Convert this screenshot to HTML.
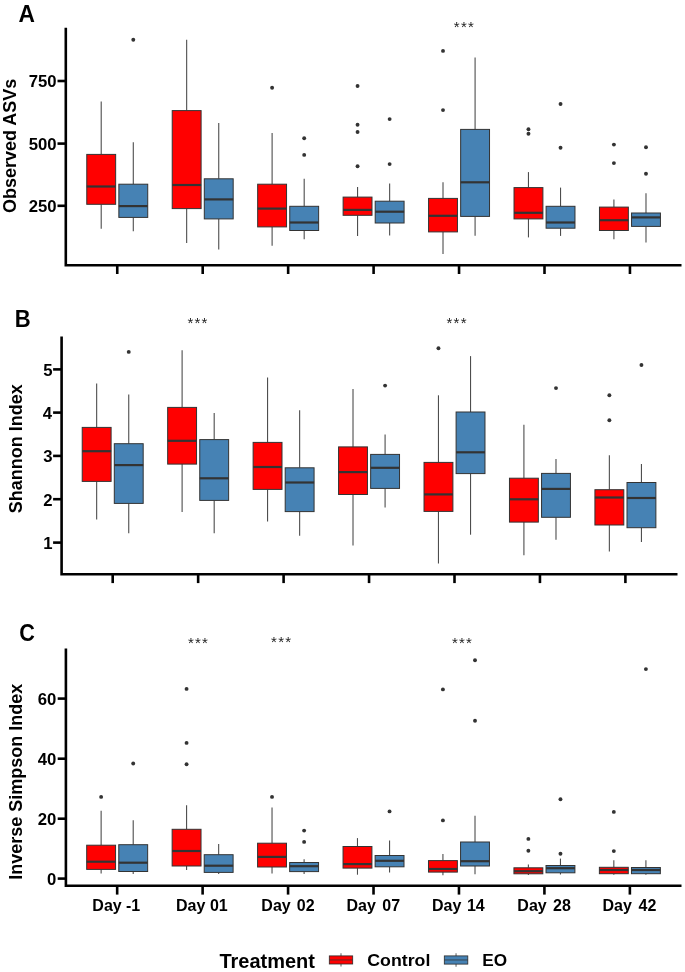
<!DOCTYPE html>
<html><head><meta charset="utf-8"><style>
html,body{margin:0;padding:0;background:#fff;}
svg{display:block;font-family:"Liberation Sans",sans-serif;will-change:transform;}
</style></head><body>
<svg width="685" height="972" viewBox="0 0 685 972">
<rect width="685" height="972" fill="#fff"/>
<line x1="101.21" y1="101.6" x2="101.21" y2="154.4" stroke="#4d4d4d" stroke-width="1.1"/>
<line x1="101.21" y1="204.3" x2="101.21" y2="228.7" stroke="#4d4d4d" stroke-width="1.1"/>
<rect x="86.77" y="154.4" width="28.88" height="49.9" fill="#FF0000" stroke="#333333" stroke-width="1.0"/>
<line x1="86.77" y1="186.5" x2="115.65" y2="186.5" stroke="#333333" stroke-width="2.2"/>
<line x1="133.29" y1="142.3" x2="133.29" y2="184.2" stroke="#4d4d4d" stroke-width="1.1"/>
<line x1="133.29" y1="217.4" x2="133.29" y2="231.3" stroke="#4d4d4d" stroke-width="1.1"/>
<rect x="118.85" y="184.2" width="28.88" height="33.2" fill="#4682B4" stroke="#333333" stroke-width="1.0"/>
<line x1="118.85" y1="206.1" x2="147.73" y2="206.1" stroke="#333333" stroke-width="2.2"/>
<circle cx="133.29" cy="39.7" r="1.95" fill="#333333"/>
<line x1="186.66" y1="39.7" x2="186.66" y2="110.6" stroke="#4d4d4d" stroke-width="1.1"/>
<line x1="186.66" y1="208.6" x2="186.66" y2="243.1" stroke="#4d4d4d" stroke-width="1.1"/>
<rect x="172.22" y="110.6" width="28.88" height="98" fill="#FF0000" stroke="#333333" stroke-width="1.0"/>
<line x1="172.22" y1="185" x2="201.1" y2="185" stroke="#333333" stroke-width="2.2"/>
<line x1="218.74" y1="123" x2="218.74" y2="178.8" stroke="#4d4d4d" stroke-width="1.1"/>
<line x1="218.74" y1="218.9" x2="218.74" y2="249.5" stroke="#4d4d4d" stroke-width="1.1"/>
<rect x="204.3" y="178.8" width="28.88" height="40.1" fill="#4682B4" stroke="#333333" stroke-width="1.0"/>
<line x1="204.3" y1="199.4" x2="233.18" y2="199.4" stroke="#333333" stroke-width="2.2"/>
<line x1="272.11" y1="133" x2="272.11" y2="184.2" stroke="#4d4d4d" stroke-width="1.1"/>
<line x1="272.11" y1="226.9" x2="272.11" y2="245.7" stroke="#4d4d4d" stroke-width="1.1"/>
<rect x="257.67" y="184.2" width="28.88" height="42.7" fill="#FF0000" stroke="#333333" stroke-width="1.0"/>
<line x1="257.67" y1="208.6" x2="286.55" y2="208.6" stroke="#333333" stroke-width="2.2"/>
<circle cx="272.11" cy="87.8" r="1.95" fill="#333333"/>
<line x1="304.19" y1="178.8" x2="304.19" y2="206.3" stroke="#4d4d4d" stroke-width="1.1"/>
<line x1="304.19" y1="230.5" x2="304.19" y2="239.3" stroke="#4d4d4d" stroke-width="1.1"/>
<rect x="289.75" y="206.3" width="28.88" height="24.2" fill="#4682B4" stroke="#333333" stroke-width="1.0"/>
<line x1="289.75" y1="222.5" x2="318.63" y2="222.5" stroke="#333333" stroke-width="2.2"/>
<circle cx="304.19" cy="138.2" r="1.95" fill="#333333"/>
<circle cx="304.19" cy="154.9" r="1.95" fill="#333333"/>
<line x1="357.56" y1="187" x2="357.56" y2="197.1" stroke="#4d4d4d" stroke-width="1.1"/>
<line x1="357.56" y1="215.3" x2="357.56" y2="235.9" stroke="#4d4d4d" stroke-width="1.1"/>
<rect x="343.12" y="197.1" width="28.88" height="18.2" fill="#FF0000" stroke="#333333" stroke-width="1.0"/>
<line x1="343.12" y1="209.9" x2="372" y2="209.9" stroke="#333333" stroke-width="2.2"/>
<circle cx="357.56" cy="86" r="1.95" fill="#333333"/>
<circle cx="357.56" cy="124.8" r="1.95" fill="#333333"/>
<circle cx="357.56" cy="132" r="1.95" fill="#333333"/>
<circle cx="357.56" cy="166.2" r="1.95" fill="#333333"/>
<line x1="389.64" y1="183.4" x2="389.64" y2="201.2" stroke="#4d4d4d" stroke-width="1.1"/>
<line x1="389.64" y1="223" x2="389.64" y2="235.4" stroke="#4d4d4d" stroke-width="1.1"/>
<rect x="375.2" y="201.2" width="28.88" height="21.8" fill="#4682B4" stroke="#333333" stroke-width="1.0"/>
<line x1="375.2" y1="211.7" x2="404.08" y2="211.7" stroke="#333333" stroke-width="2.2"/>
<circle cx="389.64" cy="119.1" r="1.95" fill="#333333"/>
<circle cx="389.64" cy="164.1" r="1.95" fill="#333333"/>
<line x1="443.01" y1="182.3" x2="443.01" y2="198.4" stroke="#4d4d4d" stroke-width="1.1"/>
<line x1="443.01" y1="231.9" x2="443.01" y2="254" stroke="#4d4d4d" stroke-width="1.1"/>
<rect x="428.57" y="198.4" width="28.88" height="33.5" fill="#FF0000" stroke="#333333" stroke-width="1.0"/>
<line x1="428.57" y1="215.8" x2="457.45" y2="215.8" stroke="#333333" stroke-width="2.2"/>
<circle cx="443.01" cy="50.9" r="1.95" fill="#333333"/>
<circle cx="443.01" cy="110.1" r="1.95" fill="#333333"/>
<line x1="475.09" y1="57.4" x2="475.09" y2="129.4" stroke="#4d4d4d" stroke-width="1.1"/>
<line x1="475.09" y1="216.4" x2="475.09" y2="235.7" stroke="#4d4d4d" stroke-width="1.1"/>
<rect x="460.65" y="129.4" width="28.88" height="87" fill="#4682B4" stroke="#333333" stroke-width="1.0"/>
<line x1="460.65" y1="182.3" x2="489.53" y2="182.3" stroke="#333333" stroke-width="2.2"/>
<line x1="528.46" y1="172.1" x2="528.46" y2="187.6" stroke="#4d4d4d" stroke-width="1.1"/>
<line x1="528.46" y1="218.9" x2="528.46" y2="237.4" stroke="#4d4d4d" stroke-width="1.1"/>
<rect x="514.02" y="187.6" width="28.88" height="31.3" fill="#FF0000" stroke="#333333" stroke-width="1.0"/>
<line x1="514.02" y1="212.8" x2="542.9" y2="212.8" stroke="#333333" stroke-width="2.2"/>
<circle cx="528.46" cy="129.2" r="1.95" fill="#333333"/>
<circle cx="528.46" cy="133.8" r="1.95" fill="#333333"/>
<line x1="560.54" y1="187.6" x2="560.54" y2="206.3" stroke="#4d4d4d" stroke-width="1.1"/>
<line x1="560.54" y1="228.2" x2="560.54" y2="235.9" stroke="#4d4d4d" stroke-width="1.1"/>
<rect x="546.1" y="206.3" width="28.88" height="21.9" fill="#4682B4" stroke="#333333" stroke-width="1.0"/>
<line x1="546.1" y1="222.5" x2="574.98" y2="222.5" stroke="#333333" stroke-width="2.2"/>
<circle cx="560.54" cy="104" r="1.95" fill="#333333"/>
<circle cx="560.54" cy="147.7" r="1.95" fill="#333333"/>
<line x1="613.91" y1="199.4" x2="613.91" y2="207.1" stroke="#4d4d4d" stroke-width="1.1"/>
<line x1="613.91" y1="230.5" x2="613.91" y2="239.3" stroke="#4d4d4d" stroke-width="1.1"/>
<rect x="599.47" y="207.1" width="28.88" height="23.4" fill="#FF0000" stroke="#333333" stroke-width="1.0"/>
<line x1="599.47" y1="220.2" x2="628.35" y2="220.2" stroke="#333333" stroke-width="2.2"/>
<circle cx="613.91" cy="144.6" r="1.95" fill="#333333"/>
<circle cx="613.91" cy="163.1" r="1.95" fill="#333333"/>
<line x1="645.99" y1="193.2" x2="645.99" y2="213" stroke="#4d4d4d" stroke-width="1.1"/>
<line x1="645.99" y1="226.4" x2="645.99" y2="242.6" stroke="#4d4d4d" stroke-width="1.1"/>
<rect x="631.55" y="213" width="28.88" height="13.4" fill="#4682B4" stroke="#333333" stroke-width="1.0"/>
<line x1="631.55" y1="217.4" x2="660.43" y2="217.4" stroke="#333333" stroke-width="2.2"/>
<circle cx="645.99" cy="147.2" r="1.95" fill="#333333"/>
<circle cx="645.99" cy="173.7" r="1.95" fill="#333333"/>
<path d="M65.8 27.8V265.2H681.5" stroke="#000" stroke-width="2.6" fill="none" stroke-linecap="butt" stroke-linejoin="miter"/>
<line x1="117.25" y1="265.2" x2="117.25" y2="274" stroke="#000" stroke-width="2.6"/>
<line x1="202.7" y1="265.2" x2="202.7" y2="274" stroke="#000" stroke-width="2.6"/>
<line x1="288.15" y1="265.2" x2="288.15" y2="274" stroke="#000" stroke-width="2.6"/>
<line x1="373.6" y1="265.2" x2="373.6" y2="274" stroke="#000" stroke-width="2.6"/>
<line x1="459.05" y1="265.2" x2="459.05" y2="274" stroke="#000" stroke-width="2.6"/>
<line x1="544.5" y1="265.2" x2="544.5" y2="274" stroke="#000" stroke-width="2.6"/>
<line x1="629.95" y1="265.2" x2="629.95" y2="274" stroke="#000" stroke-width="2.6"/>
<line x1="57.5" y1="81" x2="65.8" y2="81" stroke="#000" stroke-width="2.6"/>
<text transform="translate(28.63,87.33) scale(1.02,1.05)" font-size="16.4" font-weight="bold" fill="#000">750</text>
<line x1="57.5" y1="143.6" x2="65.8" y2="143.6" stroke="#000" stroke-width="2.6"/>
<text transform="translate(28.63,149.93) scale(1.02,1.05)" font-size="16.4" font-weight="bold" fill="#000">500</text>
<line x1="57.5" y1="205.8" x2="65.8" y2="205.8" stroke="#000" stroke-width="2.6"/>
<text transform="translate(28.63,212.13) scale(1.02,1.05)" font-size="16.4" font-weight="bold" fill="#000">250</text>
<line x1="96.66" y1="383.5" x2="96.66" y2="427.4" stroke="#4d4d4d" stroke-width="1.1"/>
<line x1="96.66" y1="481.4" x2="96.66" y2="519.4" stroke="#4d4d4d" stroke-width="1.1"/>
<rect x="82.22" y="427.4" width="28.88" height="54" fill="#FF0000" stroke="#333333" stroke-width="1.0"/>
<line x1="82.22" y1="451.2" x2="111.1" y2="451.2" stroke="#333333" stroke-width="2.2"/>
<line x1="128.74" y1="394.5" x2="128.74" y2="443.7" stroke="#4d4d4d" stroke-width="1.1"/>
<line x1="128.74" y1="503.4" x2="128.74" y2="533.3" stroke="#4d4d4d" stroke-width="1.1"/>
<rect x="114.3" y="443.7" width="28.88" height="59.7" fill="#4682B4" stroke="#333333" stroke-width="1.0"/>
<line x1="114.3" y1="465.1" x2="143.18" y2="465.1" stroke="#333333" stroke-width="2.2"/>
<circle cx="128.74" cy="351.9" r="1.95" fill="#333333"/>
<line x1="182.11" y1="350.3" x2="182.11" y2="407.4" stroke="#4d4d4d" stroke-width="1.1"/>
<line x1="182.11" y1="464.1" x2="182.11" y2="512" stroke="#4d4d4d" stroke-width="1.1"/>
<rect x="167.67" y="407.4" width="28.88" height="56.7" fill="#FF0000" stroke="#333333" stroke-width="1.0"/>
<line x1="167.67" y1="440.8" x2="196.55" y2="440.8" stroke="#333333" stroke-width="2.2"/>
<line x1="214.19" y1="412.9" x2="214.19" y2="439.6" stroke="#4d4d4d" stroke-width="1.1"/>
<line x1="214.19" y1="500.4" x2="214.19" y2="533.3" stroke="#4d4d4d" stroke-width="1.1"/>
<rect x="199.75" y="439.6" width="28.88" height="60.8" fill="#4682B4" stroke="#333333" stroke-width="1.0"/>
<line x1="199.75" y1="478.3" x2="228.63" y2="478.3" stroke="#333333" stroke-width="2.2"/>
<line x1="267.56" y1="377.6" x2="267.56" y2="442.4" stroke="#4d4d4d" stroke-width="1.1"/>
<line x1="267.56" y1="489.4" x2="267.56" y2="521.5" stroke="#4d4d4d" stroke-width="1.1"/>
<rect x="253.12" y="442.4" width="28.88" height="47" fill="#FF0000" stroke="#333333" stroke-width="1.0"/>
<line x1="253.12" y1="467" x2="282" y2="467" stroke="#333333" stroke-width="2.2"/>
<line x1="299.64" y1="410.3" x2="299.64" y2="467.8" stroke="#4d4d4d" stroke-width="1.1"/>
<line x1="299.64" y1="511.6" x2="299.64" y2="535.7" stroke="#4d4d4d" stroke-width="1.1"/>
<rect x="285.2" y="467.8" width="28.88" height="43.8" fill="#4682B4" stroke="#333333" stroke-width="1.0"/>
<line x1="285.2" y1="482.5" x2="314.08" y2="482.5" stroke="#333333" stroke-width="2.2"/>
<line x1="353.01" y1="388.9" x2="353.01" y2="446.9" stroke="#4d4d4d" stroke-width="1.1"/>
<line x1="353.01" y1="494.5" x2="353.01" y2="545.4" stroke="#4d4d4d" stroke-width="1.1"/>
<rect x="338.57" y="446.9" width="28.88" height="47.6" fill="#FF0000" stroke="#333333" stroke-width="1.0"/>
<line x1="338.57" y1="472.1" x2="367.45" y2="472.1" stroke="#333333" stroke-width="2.2"/>
<line x1="385.09" y1="434.6" x2="385.09" y2="454.4" stroke="#4d4d4d" stroke-width="1.1"/>
<line x1="385.09" y1="488.4" x2="385.09" y2="507.6" stroke="#4d4d4d" stroke-width="1.1"/>
<rect x="370.65" y="454.4" width="28.88" height="34" fill="#4682B4" stroke="#333333" stroke-width="1.0"/>
<line x1="370.65" y1="467.8" x2="399.53" y2="467.8" stroke="#333333" stroke-width="2.2"/>
<circle cx="385.09" cy="385.6" r="1.95" fill="#333333"/>
<line x1="438.46" y1="395.3" x2="438.46" y2="462.4" stroke="#4d4d4d" stroke-width="1.1"/>
<line x1="438.46" y1="511.4" x2="438.46" y2="563.5" stroke="#4d4d4d" stroke-width="1.1"/>
<rect x="424.02" y="462.4" width="28.88" height="49" fill="#FF0000" stroke="#333333" stroke-width="1.0"/>
<line x1="424.02" y1="494.4" x2="452.9" y2="494.4" stroke="#333333" stroke-width="2.2"/>
<circle cx="438.46" cy="348.3" r="1.95" fill="#333333"/>
<line x1="470.54" y1="356.1" x2="470.54" y2="412" stroke="#4d4d4d" stroke-width="1.1"/>
<line x1="470.54" y1="473.6" x2="470.54" y2="534.7" stroke="#4d4d4d" stroke-width="1.1"/>
<rect x="456.1" y="412" width="28.88" height="61.6" fill="#4682B4" stroke="#333333" stroke-width="1.0"/>
<line x1="456.1" y1="452.3" x2="484.98" y2="452.3" stroke="#333333" stroke-width="2.2"/>
<line x1="523.91" y1="424.7" x2="523.91" y2="478.2" stroke="#4d4d4d" stroke-width="1.1"/>
<line x1="523.91" y1="522.1" x2="523.91" y2="555.3" stroke="#4d4d4d" stroke-width="1.1"/>
<rect x="509.47" y="478.2" width="28.88" height="43.9" fill="#FF0000" stroke="#333333" stroke-width="1.0"/>
<line x1="509.47" y1="499.3" x2="538.35" y2="499.3" stroke="#333333" stroke-width="2.2"/>
<line x1="555.99" y1="458.9" x2="555.99" y2="473.4" stroke="#4d4d4d" stroke-width="1.1"/>
<line x1="555.99" y1="517.3" x2="555.99" y2="539.7" stroke="#4d4d4d" stroke-width="1.1"/>
<rect x="541.55" y="473.4" width="28.88" height="43.9" fill="#4682B4" stroke="#333333" stroke-width="1.0"/>
<line x1="541.55" y1="488.9" x2="570.43" y2="488.9" stroke="#333333" stroke-width="2.2"/>
<circle cx="555.99" cy="388.1" r="1.95" fill="#333333"/>
<line x1="609.36" y1="455.2" x2="609.36" y2="489.7" stroke="#4d4d4d" stroke-width="1.1"/>
<line x1="609.36" y1="525" x2="609.36" y2="551.5" stroke="#4d4d4d" stroke-width="1.1"/>
<rect x="594.92" y="489.7" width="28.88" height="35.3" fill="#FF0000" stroke="#333333" stroke-width="1.0"/>
<line x1="594.92" y1="497.5" x2="623.8" y2="497.5" stroke="#333333" stroke-width="2.2"/>
<circle cx="609.36" cy="395.3" r="1.95" fill="#333333"/>
<circle cx="609.36" cy="420.2" r="1.95" fill="#333333"/>
<line x1="641.44" y1="464" x2="641.44" y2="482.5" stroke="#4d4d4d" stroke-width="1.1"/>
<line x1="641.44" y1="527.7" x2="641.44" y2="541.9" stroke="#4d4d4d" stroke-width="1.1"/>
<rect x="627" y="482.5" width="28.88" height="45.2" fill="#4682B4" stroke="#333333" stroke-width="1.0"/>
<line x1="627" y1="498" x2="655.88" y2="498" stroke="#333333" stroke-width="2.2"/>
<circle cx="641.44" cy="365" r="1.95" fill="#333333"/>
<path d="M61.6 336.6V574.3H677.5" stroke="#000" stroke-width="2.6" fill="none" stroke-linecap="butt" stroke-linejoin="miter"/>
<line x1="112.7" y1="574.3" x2="112.7" y2="583.1" stroke="#000" stroke-width="2.6"/>
<line x1="198.15" y1="574.3" x2="198.15" y2="583.1" stroke="#000" stroke-width="2.6"/>
<line x1="283.6" y1="574.3" x2="283.6" y2="583.1" stroke="#000" stroke-width="2.6"/>
<line x1="369.05" y1="574.3" x2="369.05" y2="583.1" stroke="#000" stroke-width="2.6"/>
<line x1="454.5" y1="574.3" x2="454.5" y2="583.1" stroke="#000" stroke-width="2.6"/>
<line x1="539.95" y1="574.3" x2="539.95" y2="583.1" stroke="#000" stroke-width="2.6"/>
<line x1="625.4" y1="574.3" x2="625.4" y2="583.1" stroke="#000" stroke-width="2.6"/>
<line x1="53.1" y1="369.4" x2="61.6" y2="369.4" stroke="#000" stroke-width="2.6"/>
<text transform="translate(43.13,375.73) scale(1.02,1.05)" font-size="16.4" font-weight="bold" fill="#000">5</text>
<line x1="53.1" y1="412.6" x2="61.6" y2="412.6" stroke="#000" stroke-width="2.6"/>
<text transform="translate(42.8,418.93) scale(1.02,1.05)" font-size="16.4" font-weight="bold" fill="#000">4</text>
<line x1="53.1" y1="455.9" x2="61.6" y2="455.9" stroke="#000" stroke-width="2.6"/>
<text transform="translate(43.3,462.23) scale(1.02,1.05)" font-size="16.4" font-weight="bold" fill="#000">3</text>
<line x1="53.1" y1="499.2" x2="61.6" y2="499.2" stroke="#000" stroke-width="2.6"/>
<text transform="translate(43.3,505.53) scale(1.02,1.05)" font-size="16.4" font-weight="bold" fill="#000">2</text>
<line x1="53.1" y1="542.6" x2="61.6" y2="542.6" stroke="#000" stroke-width="2.6"/>
<text transform="translate(43.13,548.93) scale(1.02,1.05)" font-size="16.4" font-weight="bold" fill="#000">1</text>
<line x1="101.13" y1="810.8" x2="101.13" y2="845.2" stroke="#4d4d4d" stroke-width="1.1"/>
<line x1="101.13" y1="869.4" x2="101.13" y2="873.5" stroke="#4d4d4d" stroke-width="1.1"/>
<rect x="86.69" y="845.2" width="28.88" height="24.2" fill="#FF0000" stroke="#333333" stroke-width="1.0"/>
<line x1="86.69" y1="861.7" x2="115.57" y2="861.7" stroke="#333333" stroke-width="2.2"/>
<circle cx="101.13" cy="796.9" r="1.95" fill="#333333"/>
<line x1="133.21" y1="820.3" x2="133.21" y2="844.7" stroke="#4d4d4d" stroke-width="1.1"/>
<line x1="133.21" y1="871.5" x2="133.21" y2="874.1" stroke="#4d4d4d" stroke-width="1.1"/>
<rect x="118.77" y="844.7" width="28.88" height="26.8" fill="#4682B4" stroke="#333333" stroke-width="1.0"/>
<line x1="118.77" y1="862.7" x2="147.65" y2="862.7" stroke="#333333" stroke-width="2.2"/>
<circle cx="133.21" cy="763.5" r="1.95" fill="#333333"/>
<line x1="186.58" y1="805.2" x2="186.58" y2="829.3" stroke="#4d4d4d" stroke-width="1.1"/>
<line x1="186.58" y1="866" x2="186.58" y2="870" stroke="#4d4d4d" stroke-width="1.1"/>
<rect x="172.14" y="829.3" width="28.88" height="36.7" fill="#FF0000" stroke="#333333" stroke-width="1.0"/>
<line x1="172.14" y1="851" x2="201.02" y2="851" stroke="#333333" stroke-width="2.2"/>
<circle cx="186.58" cy="688.9" r="1.95" fill="#333333"/>
<circle cx="186.58" cy="742.9" r="1.95" fill="#333333"/>
<circle cx="186.58" cy="764.3" r="1.95" fill="#333333"/>
<line x1="218.66" y1="844" x2="218.66" y2="854.7" stroke="#4d4d4d" stroke-width="1.1"/>
<line x1="218.66" y1="872.4" x2="218.66" y2="874" stroke="#4d4d4d" stroke-width="1.1"/>
<rect x="204.22" y="854.7" width="28.88" height="17.7" fill="#4682B4" stroke="#333333" stroke-width="1.0"/>
<line x1="204.22" y1="865.7" x2="233.1" y2="865.7" stroke="#333333" stroke-width="2.2"/>
<line x1="272.03" y1="807.6" x2="272.03" y2="843.2" stroke="#4d4d4d" stroke-width="1.1"/>
<line x1="272.03" y1="867" x2="272.03" y2="873.4" stroke="#4d4d4d" stroke-width="1.1"/>
<rect x="257.59" y="843.2" width="28.88" height="23.8" fill="#FF0000" stroke="#333333" stroke-width="1.0"/>
<line x1="257.59" y1="856.9" x2="286.47" y2="856.9" stroke="#333333" stroke-width="2.2"/>
<circle cx="272.03" cy="796.9" r="1.95" fill="#333333"/>
<line x1="304.11" y1="859.3" x2="304.11" y2="862.5" stroke="#4d4d4d" stroke-width="1.1"/>
<line x1="304.11" y1="871.6" x2="304.11" y2="874" stroke="#4d4d4d" stroke-width="1.1"/>
<rect x="289.67" y="862.5" width="28.88" height="9.1" fill="#4682B4" stroke="#333333" stroke-width="1.0"/>
<line x1="289.67" y1="866.2" x2="318.55" y2="866.2" stroke="#333333" stroke-width="2.2"/>
<circle cx="304.11" cy="830.6" r="1.95" fill="#333333"/>
<circle cx="304.11" cy="841.9" r="1.95" fill="#333333"/>
<line x1="357.48" y1="838.1" x2="357.48" y2="846.5" stroke="#4d4d4d" stroke-width="1.1"/>
<line x1="357.48" y1="868.1" x2="357.48" y2="874.7" stroke="#4d4d4d" stroke-width="1.1"/>
<rect x="343.04" y="846.5" width="28.88" height="21.6" fill="#FF0000" stroke="#333333" stroke-width="1.0"/>
<line x1="343.04" y1="864.1" x2="371.92" y2="864.1" stroke="#333333" stroke-width="2.2"/>
<line x1="389.56" y1="840.6" x2="389.56" y2="855.5" stroke="#4d4d4d" stroke-width="1.1"/>
<line x1="389.56" y1="866.8" x2="389.56" y2="872.4" stroke="#4d4d4d" stroke-width="1.1"/>
<rect x="375.12" y="855.5" width="28.88" height="11.3" fill="#4682B4" stroke="#333333" stroke-width="1.0"/>
<line x1="375.12" y1="860.8" x2="404" y2="860.8" stroke="#333333" stroke-width="2.2"/>
<circle cx="389.56" cy="811.4" r="1.95" fill="#333333"/>
<line x1="442.93" y1="854.1" x2="442.93" y2="860.6" stroke="#4d4d4d" stroke-width="1.1"/>
<line x1="442.93" y1="872.1" x2="442.93" y2="875.2" stroke="#4d4d4d" stroke-width="1.1"/>
<rect x="428.49" y="860.6" width="28.88" height="11.5" fill="#FF0000" stroke="#333333" stroke-width="1.0"/>
<line x1="428.49" y1="869" x2="457.37" y2="869" stroke="#333333" stroke-width="2.2"/>
<circle cx="442.93" cy="689.4" r="1.95" fill="#333333"/>
<circle cx="442.93" cy="820.4" r="1.95" fill="#333333"/>
<line x1="475.01" y1="815.8" x2="475.01" y2="842" stroke="#4d4d4d" stroke-width="1.1"/>
<line x1="475.01" y1="866" x2="475.01" y2="874.2" stroke="#4d4d4d" stroke-width="1.1"/>
<rect x="460.57" y="842" width="28.88" height="24" fill="#4682B4" stroke="#333333" stroke-width="1.0"/>
<line x1="460.57" y1="861.2" x2="489.45" y2="861.2" stroke="#333333" stroke-width="2.2"/>
<circle cx="475.01" cy="660.2" r="1.95" fill="#333333"/>
<circle cx="475.01" cy="720.7" r="1.95" fill="#333333"/>
<line x1="528.38" y1="864.5" x2="528.38" y2="867.8" stroke="#4d4d4d" stroke-width="1.1"/>
<line x1="528.38" y1="873.8" x2="528.38" y2="875.1" stroke="#4d4d4d" stroke-width="1.1"/>
<rect x="513.94" y="867.8" width="28.88" height="6" fill="#FF0000" stroke="#333333" stroke-width="1.0"/>
<line x1="513.94" y1="871.2" x2="542.82" y2="871.2" stroke="#333333" stroke-width="2.2"/>
<circle cx="528.38" cy="838.9" r="1.95" fill="#333333"/>
<circle cx="528.38" cy="850.8" r="1.95" fill="#333333"/>
<line x1="560.46" y1="858.6" x2="560.46" y2="865.5" stroke="#4d4d4d" stroke-width="1.1"/>
<line x1="560.46" y1="872.8" x2="560.46" y2="874.5" stroke="#4d4d4d" stroke-width="1.1"/>
<rect x="546.02" y="865.5" width="28.88" height="7.3" fill="#4682B4" stroke="#333333" stroke-width="1.0"/>
<line x1="546.02" y1="868.2" x2="574.9" y2="868.2" stroke="#333333" stroke-width="2.2"/>
<circle cx="560.46" cy="799.2" r="1.95" fill="#333333"/>
<circle cx="560.46" cy="853.7" r="1.95" fill="#333333"/>
<line x1="613.83" y1="860.3" x2="613.83" y2="867.3" stroke="#4d4d4d" stroke-width="1.1"/>
<line x1="613.83" y1="873.7" x2="613.83" y2="874.7" stroke="#4d4d4d" stroke-width="1.1"/>
<rect x="599.39" y="867.3" width="28.88" height="6.4" fill="#FF0000" stroke="#333333" stroke-width="1.0"/>
<line x1="599.39" y1="870" x2="628.27" y2="870" stroke="#333333" stroke-width="2.2"/>
<circle cx="613.83" cy="811.9" r="1.95" fill="#333333"/>
<circle cx="613.83" cy="851.1" r="1.95" fill="#333333"/>
<line x1="645.91" y1="860.3" x2="645.91" y2="867.5" stroke="#4d4d4d" stroke-width="1.1"/>
<line x1="645.91" y1="873.7" x2="645.91" y2="874.7" stroke="#4d4d4d" stroke-width="1.1"/>
<rect x="631.47" y="867.5" width="28.88" height="6.2" fill="#4682B4" stroke="#333333" stroke-width="1.0"/>
<line x1="631.47" y1="870" x2="660.35" y2="870" stroke="#333333" stroke-width="2.2"/>
<circle cx="645.91" cy="669.1" r="1.95" fill="#333333"/>
<path d="M65.9 648.5V885.8H681.5" stroke="#000" stroke-width="2.6" fill="none" stroke-linecap="butt" stroke-linejoin="miter"/>
<line x1="117.17" y1="885.8" x2="117.17" y2="894.6" stroke="#000" stroke-width="2.6"/>
<line x1="202.62" y1="885.8" x2="202.62" y2="894.6" stroke="#000" stroke-width="2.6"/>
<line x1="288.07" y1="885.8" x2="288.07" y2="894.6" stroke="#000" stroke-width="2.6"/>
<line x1="373.52" y1="885.8" x2="373.52" y2="894.6" stroke="#000" stroke-width="2.6"/>
<line x1="458.97" y1="885.8" x2="458.97" y2="894.6" stroke="#000" stroke-width="2.6"/>
<line x1="544.42" y1="885.8" x2="544.42" y2="894.6" stroke="#000" stroke-width="2.6"/>
<line x1="629.87" y1="885.8" x2="629.87" y2="894.6" stroke="#000" stroke-width="2.6"/>
<line x1="57.7" y1="698.6" x2="65.9" y2="698.6" stroke="#000" stroke-width="2.6"/>
<text transform="translate(37.7,704.93) scale(1.02,1.05)" font-size="16.4" font-weight="bold" fill="#000">60</text>
<line x1="57.7" y1="758.7" x2="65.9" y2="758.7" stroke="#000" stroke-width="2.6"/>
<text transform="translate(37.7,765.03) scale(1.02,1.05)" font-size="16.4" font-weight="bold" fill="#000">40</text>
<line x1="57.7" y1="818.7" x2="65.9" y2="818.7" stroke="#000" stroke-width="2.6"/>
<text transform="translate(37.7,825.03) scale(1.02,1.05)" font-size="16.4" font-weight="bold" fill="#000">20</text>
<line x1="57.7" y1="878.6" x2="65.9" y2="878.6" stroke="#000" stroke-width="2.6"/>
<text transform="translate(47.07,884.93) scale(1.02,1.05)" font-size="16.4" font-weight="bold" fill="#000">0</text>
<text transform="translate(18.52,21.7) scale(0.95,1.0)" font-size="24" font-weight="bold" fill="#000">A</text>
<text transform="translate(14.75,327.4) scale(0.92,1.0)" font-size="24" font-weight="bold" fill="#000">B</text>
<text transform="translate(19.14,640.6) scale(0.9,1.0)" font-size="24" font-weight="bold" fill="#000">C</text>
<text transform="translate(16.4,213.12) rotate(-90)" font-size="18.0" font-weight="bold" fill="#000">Observed ASVs</text>
<text transform="translate(21.8,513.14) rotate(-90)" font-size="18.0" font-weight="bold" fill="#000">Shannon Index</text>
<text transform="translate(21.8,879.86) rotate(-90)" font-size="18.0" font-weight="bold" fill="#000">Inverse Simpson Index</text>
<text transform="translate(92.33,910.6)" font-size="16" font-weight="bold" fill="#000">Day</text>
<text transform="translate(125.99,910.6)" font-size="16" font-weight="bold" fill="#000">-1</text>
<text transform="translate(175.93,910.6)" font-size="16" font-weight="bold" fill="#000">Day</text>
<text transform="translate(209.97,910.6)" font-size="16" font-weight="bold" fill="#000">01</text>
<text transform="translate(261.33,910.6)" font-size="16" font-weight="bold" fill="#000">Day</text>
<text transform="translate(296.73,910.6)" font-size="16" font-weight="bold" fill="#000">02</text>
<text transform="translate(346.48,910.6)" font-size="16" font-weight="bold" fill="#000">Day</text>
<text transform="translate(382.23,910.6)" font-size="16" font-weight="bold" fill="#000">07</text>
<text transform="translate(432.03,910.6)" font-size="16" font-weight="bold" fill="#000">Day</text>
<text transform="translate(466.89,910.6)" font-size="16" font-weight="bold" fill="#000">14</text>
<text transform="translate(517.33,910.6)" font-size="16" font-weight="bold" fill="#000">Day</text>
<text transform="translate(553.07,910.6)" font-size="16" font-weight="bold" fill="#000">28</text>
<text transform="translate(602.53,910.6)" font-size="16" font-weight="bold" fill="#000">Day</text>
<text transform="translate(638.53,910.6)" font-size="16" font-weight="bold" fill="#000">42</text>
<text x="453.85" y="32.42" font-size="15.0" fill="#222">*</text><text x="460.93" y="32.42" font-size="15.0" fill="#222">*</text><text x="468" y="32.42" font-size="15.0" fill="#222">*</text>
<text x="187.39" y="328.03" font-size="15.0" fill="#222">*</text><text x="194.47" y="328.03" font-size="15.0" fill="#222">*</text><text x="201.56" y="328.03" font-size="15.0" fill="#222">*</text>
<text x="446.55" y="327.93" font-size="15.0" fill="#222">*</text><text x="453.62" y="327.93" font-size="15.0" fill="#222">*</text><text x="460.7" y="327.93" font-size="15.0" fill="#222">*</text>
<text x="187.89" y="647.52" font-size="15.0" fill="#222">*</text><text x="194.97" y="647.52" font-size="15.0" fill="#222">*</text><text x="202.06" y="647.52" font-size="15.0" fill="#222">*</text>
<text x="271.1" y="647.02" font-size="15.0" fill="#222">*</text><text x="278.18" y="647.02" font-size="15.0" fill="#222">*</text><text x="285.25" y="647.02" font-size="15.0" fill="#222">*</text>
<text x="451.94" y="647.52" font-size="15.0" fill="#222">*</text><text x="459.02" y="647.52" font-size="15.0" fill="#222">*</text><text x="466.1" y="647.52" font-size="15.0" fill="#222">*</text>
<text transform="translate(219.4,967.6) scale(1.025,1.0)" font-size="19.5" font-weight="bold" fill="#000">Treatment</text>
<line x1="341" y1="953.3" x2="341" y2="966.6" stroke="#777" stroke-width="1.2"/><rect x="329.3" y="955.9" width="23.4" height="8.1" fill="#FF0000" stroke="#2a2a2a" stroke-width="0.8"/><line x1="329.3" y1="959.95" x2="352.7" y2="959.95" stroke="#333" stroke-opacity="0.6" stroke-width="1.3"/>
<line x1="456.05" y1="953.3" x2="456.05" y2="966.7" stroke="#777" stroke-width="1.2"/><rect x="444.3" y="955.9" width="23.5" height="8.2" fill="#4682B4" stroke="#2a2a2a" stroke-width="0.8"/><line x1="444.3" y1="959.95" x2="467.8" y2="959.95" stroke="#333" stroke-opacity="0.6" stroke-width="1.3"/>
<text transform="translate(367.29,966.4) scale(1.02,1.0)" font-size="17.4" font-weight="bold" fill="#000">Control</text>
<text transform="translate(482.2,966.4)" font-size="17.2" font-weight="bold" fill="#000">EO</text>
</svg>
</body></html>
